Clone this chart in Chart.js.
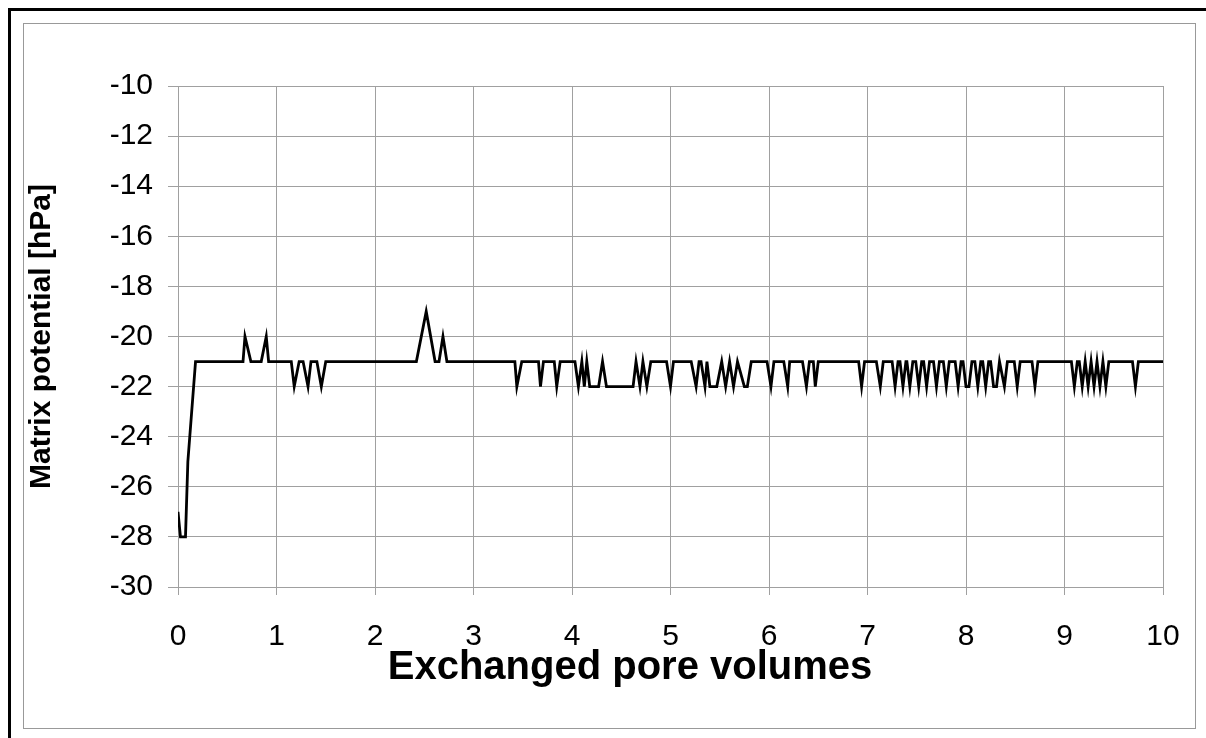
<!DOCTYPE html>
<html>
<head>
<meta charset="utf-8">
<script src="https://cdn.jsdelivr.net/npm/chart.js@4"></script>
<style>
  html, body { margin: 0; padding: 0; background: #fff; }
  body { width: 1206px; height: 738px; position: relative; overflow: hidden; }
  #frame { position: absolute; left: 8px; top: 8px; width: 1300px; height: 800px;
           border-left: 3px solid #000; border-top: 3px solid #000; }
  #inner { position: absolute; left: 23px; top: 23px; width: 1171px; height: 704px;
           border: 1px solid #999; }
  #potChart { position: absolute; left: 0; top: 0; }
</style>
</head>
<body>
<div id="frame"></div>
<div id="inner"></div>
<canvas id="potChart" width="1206" height="738"></canvas>
<script>
// exchanged pore volumes (x) and matrix potential in hPa (y), vertices
const poreVolumes = [
  0, 0.025, 0.076, 0.10, 0.178,
  0.66, 0.68, 0.74, 0.845, 0.896, 0.92,
  1.15, 1.18, 1.23, 1.27, 1.32, 1.35, 1.41, 1.455, 1.50,
  2.42, 2.52, 2.61, 2.65, 2.69, 2.73,
  3.42, 3.44, 3.49, 3.66, 3.68, 3.71, 3.82, 3.845, 3.88,
  4.03, 4.065, 4.10, 4.125, 4.15, 4.18, 4.27, 4.31, 4.35, 4.62, 4.65, 4.69, 4.72, 4.76, 4.80,
  4.96, 5.00, 5.03, 5.21, 5.26, 5.29, 5.31, 5.35, 5.37, 5.40, 5.47, 5.52, 5.56, 5.60, 5.64, 5.68,
  5.75, 5.78, 5.82, 5.98, 6.02, 6.05, 6.15, 6.19, 6.21, 6.34, 6.38, 6.41, 6.45, 6.47, 6.50,
  6.91, 6.94, 6.97, 7.09, 7.13, 7.16,
  7.25, 7.28, 7.31, 7.33, 7.36, 7.39, 7.40, 7.43, 7.46, 7.49, 7.52, 7.55, 7.57, 7.60, 7.63,
  7.67, 7.70, 7.73, 7.77, 7.80, 7.83, 7.89, 7.92, 7.95, 7.97, 8.00, 8.03, 8.06,
  8.09, 8.12, 8.15, 8.17, 8.20, 8.23, 8.25, 8.28, 8.31, 8.34, 8.39, 8.42,
  8.49, 8.52, 8.55, 8.67, 8.70, 8.73,
  9.07, 9.10, 9.13, 9.15, 9.18, 9.21, 9.24, 9.27, 9.30, 9.33, 9.36, 9.39, 9.42, 9.45,
  9.69, 9.72, 9.75, 10
];
const matrixPotential = [
  -27, -28, -28, -25, -21,
  -21, -20, -21, -21, -20, -21,
  -21, -22, -21, -21, -22, -21, -21, -22, -21,
  -21, -19, -21, -21, -20, -21,
  -21, -22, -21, -21, -22, -21, -21, -22, -21,
  -21, -22, -21, -22, -21, -22, -22, -21, -22, -22, -21, -22, -21, -22, -21,
  -21, -22, -21, -21, -22, -21, -21, -22, -21, -22, -22, -21, -22, -21, -22, -21,
  -22, -22, -21, -21, -22, -21, -21, -22, -21, -21, -22, -21, -21, -22, -21,
  -21, -22, -21, -21, -22, -21,
  -21, -22, -21, -21, -22, -21, -21, -22, -21, -21, -22, -21, -21, -22, -21,
  -21, -22, -21, -21, -22, -21, -21, -22, -21, -21, -22, -22, -21,
  -21, -22, -21, -21, -22, -21, -21, -22, -22, -21, -22, -21,
  -21, -22, -21, -21, -22, -21,
  -21, -22, -21, -21, -22, -21, -22, -21, -22, -21, -22, -21, -22, -21,
  -21, -22, -21, -21
];

const xMin = 0, xMax = 10, xStep = 1;
const yMin = -30, yMax = -10, yStep = 2;
const xTitle = "Exchanged pore volumes";
const yTitle = "Matrix potential [hPa]";

const font = "'Liberation Sans', Arial, sans-serif";
const gridGray = "#a0a0a0";

// x axis title sits left of the plot centre in the original, so draw it by hand
const xTitlePlugin = {
  id: "xTitle",
  afterDraw(chart) {
    const ctx = chart.ctx;
    ctx.save();
    ctx.font = "bold 40px " + font;
    ctx.fillStyle = "#000";
    ctx.textAlign = "center";
    ctx.textBaseline = "middle";
    ctx.fillText(xTitle, 630, 668);
    ctx.restore();
  },
};

new Chart(document.getElementById("potChart").getContext("2d"), {
  type: "scatter",
  data: {
    datasets: [
      {
        data: poreVolumes.map((x, i) => ({ x: x, y: matrixPotential[i] })),
        showLine: true,
        borderColor: "#000",
        borderWidth: 2.8,
        pointRadius: 0,
        tension: 0,
      },
    ],
  },
  options: {
    responsive: false,
    animation: false,
    devicePixelRatio: 1,
    layout: { padding: { left: 0, top: 86, right: 43, bottom: 0 } },
    plugins: { legend: { display: false }, tooltip: { enabled: false } },
    scales: {
      x: {
        type: "linear",
        min: xMin,
        max: xMax,
        ticks: { stepSize: xStep, color: "#000", font: { family: font, size: 30 }, padding: 24, maxRotation: 0 },
        grid: { color: gridGray, tickColor: gridGray, tickLength: 8 },
        border: { color: gridGray },
        afterFit: (scale) => { scale.height = 151; },
      },
      y: {
        type: "linear",
        min: yMin,
        max: yMax,
        ticks: { stepSize: yStep, color: "#000", font: { family: font, size: 30 }, padding: 15 },
        grid: { color: gridGray, tickColor: gridGray, tickLength: 10 },
        border: { color: gridGray },
        title: {
          display: true,
          text: yTitle,
          color: "#000",
          font: { family: font, size: 30, weight: "bold" },
          padding: { top: 24, bottom: 0 },
        },
        afterFit: (scale) => { scale.width = 178; },
      },
    },
  },
  plugins: [xTitlePlugin],
});
</script>
</body>
</html>
